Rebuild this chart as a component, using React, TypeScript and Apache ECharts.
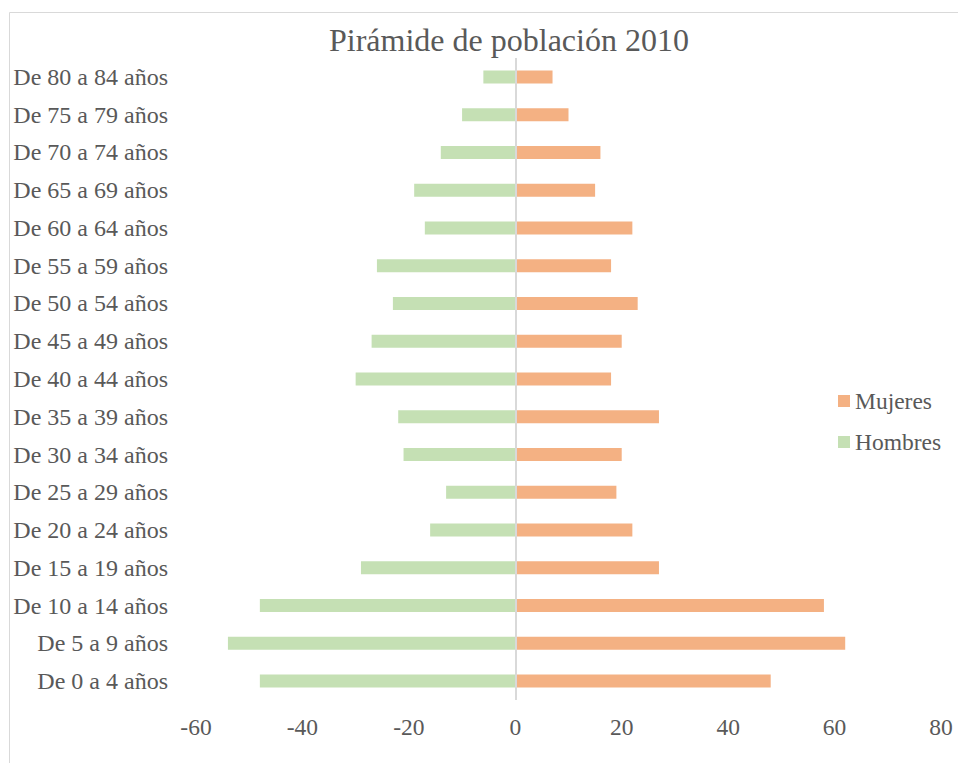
import React, { useEffect, useRef } from "react";
import * as echarts from "echarts";

const categories = [
  "De 0 a 4 años",
  "De 5 a 9 años",
  "De 10 a 14 años",
  "De 15 a 19 años",
  "De 20 a 24 años",
  "De 25 a 29 años",
  "De 30 a 34 años",
  "De 35 a 39 años",
  "De 40 a 44 años",
  "De 45 a 49 años",
  "De 50 a 54 años",
  "De 55 a 59 años",
  "De 60 a 64 años",
  "De 65 a 69 años",
  "De 70 a 74 años",
  "De 75 a 79 años",
  "De 80 a 84 años",
];

const hombres = [-48, -54, -48, -29, -16, -13, -21, -22, -30, -27, -23, -26, -17, -19, -14, -10, -6];
const mujeres = [48, 62, 58, 27, 22, 19, 20, 27, 18, 20, 23, 18, 22, 15, 16, 10, 7];

const xMin = -60;
const xMax = 80;
const xInterval = 20;

const FONT = "'Liberation Serif', 'Times New Roman', serif";
const TEXT = "#595959";

export default function App() {
  const ref = useRef<HTMLDivElement>(null);
  useEffect(() => {
    if (!ref.current) return;
    const chart = echarts.init(ref.current, null, { renderer: "svg" });
    chart.setOption({
      animation: false,
      backgroundColor: "#ffffff",
      title: {
        text: "Pirámide de población 2010",
        left: 329,
        top: 24,
        padding: 0,
        textStyle: { fontFamily: FONT, fontSize: 32, fontWeight: "normal", color: TEXT },
      },
      graphic: [
        {
          type: "rect",
          shape: { x: 9.5, y: 12.5, width: 1200, height: 1200 },
          style: { fill: "none", stroke: "#d9d9d9", lineWidth: 1 },
          silent: true,
        },
      ],
      legend: {
        orient: "vertical",
        left: 838,
        top: 389,
        padding: 0,
        itemWidth: 12,
        itemHeight: 12,
        itemGap: 17,
        icon: "rect",
        data: ["Mujeres", "Hombres"],
        textStyle: { fontFamily: FONT, fontSize: 23.5, color: TEXT, padding: [0, 0, 0, 0] },
      },
      grid: { left: 196, right: 17, top: 58, bottom: 63, containLabel: false },
      xAxis: {
        type: "value",
        min: xMin,
        max: xMax,
        interval: xInterval,
        axisLine: { show: false },
        axisTick: { show: false },
        splitLine: { show: false },
        axisLabel: { fontFamily: FONT, fontSize: 23.5, color: TEXT, margin: 15 },
      },
      yAxis: {
        type: "category",
        data: categories,
        axisLine: { show: false, onZero: false },
        axisTick: { show: false },
        splitLine: { show: false },
        axisLabel: { fontFamily: FONT, fontSize: 24, color: TEXT, margin: 28 },
      },
      series: [
        {
          name: "Hombres",
          type: "bar",
          data: hombres,
          barWidth: 13,
          barGap: "-100%",
          itemStyle: { color: "#C5E0B4" },
          markLine: {
            silent: true,
            symbol: ["none", "none"],
            label: { show: false },
            lineStyle: { color: "#d9d9d9", width: 2, type: "solid" },
            data: [{ xAxis: 0 }],
          },
        },
        {
          name: "Mujeres",
          type: "bar",
          data: mujeres,
          barWidth: 13,
          barGap: "-100%",
          itemStyle: { color: "#F4B183" },
        },
      ],
    });
    return () => chart.dispose();
  }, []);
  return (
    <div
      ref={ref}
      style={{ position: "fixed", left: 0, top: 0, width: 958, height: 763 }}
    />
  );
}
